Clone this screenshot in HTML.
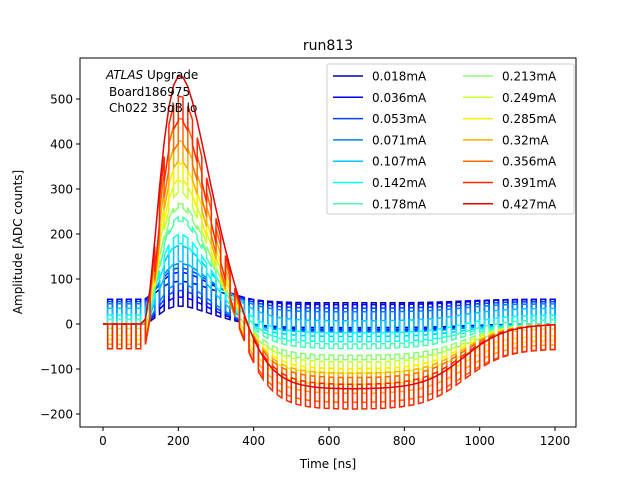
<!DOCTYPE html>
<html><head><meta charset="utf-8"><style>
body{margin:0;background:#fff}
text{font-family:"DejaVu Sans","Liberation Sans",sans-serif;fill:#000}
</style></head><body>
<svg id="chart" width="640" height="480" xmlns="http://www.w3.org/2000/svg">
<rect width="640" height="480" fill="#fff"/>
<g id="series"></g>
<rect x="80" y="58" width="496" height="369" fill="none" stroke="#000" stroke-width="1"/>
<g id="xticks"></g>
<g id="yticks"></g>
<text x="328" y="50" font-size="14" text-anchor="middle">run813</text>
<text x="328" y="468" font-size="12" text-anchor="middle">Time [ns]</text>
<text transform="translate(22,242) rotate(-90)" font-size="12" text-anchor="middle">Amplitude [ADC counts]</text>
<text x="106" y="79" font-size="12"><tspan font-style="italic">ATLAS</tspan> Upgrade</text>
<text x="109" y="96" font-size="12">Board186975</text>
<text x="109" y="112" font-size="12">Ch022 35dB lo</text>
<g id="legend">
<rect x="327" y="64" width="247" height="150" fill="#fff" fill-opacity="0.8" stroke="#ccc" rx="2"/>
</g>
</svg>
<script>
const currents=["0.018mA","0.036mA","0.053mA","0.071mA","0.107mA","0.142mA","0.178mA","0.213mA","0.249mA","0.285mA","0.32mA","0.356mA","0.391mA","0.427mA"];
const peaks=[40,60,75,90,140,180,230,270,320,360,410,460,510,555];
const undershoots=[8,12,15,18,28,40,55,70,85,100,110,120,135,145];
const squareAmps=[55,55,50,45,35,20,10,-10,-25,-35,-45,-55,-55,0];
const xTicks=[0,200,400,600,800,1000,1200];
const yTicks=[-200,-100,0,100,200,300,400,500];
const NS="http://www.w3.org/2000/svg";
function X(t){return 103+t*452/1200;}
function Y(v){return 324-v*0.45;}
function jet(f){const r=Math.min(Math.max(Math.min(4*f-1.5,-4*f+4.5),0),1),g=Math.min(Math.max(Math.min(4*f-0.5,-4*f+3.5),0),1),b=Math.min(Math.max(Math.min(4*f+0.5,-4*f+2.5),0),1);return `rgb(${Math.round(r*255)},${Math.round(g*255)},${Math.round(b*255)})`;}
function shape(t,p,u){
 const x=(t-104)/101;
 const pos = x<=0?0:Math.pow(x,2.5)*Math.exp(-2.5*(x-1));
 const onset=1/(1+Math.exp(-(t-370)/40)), rec=1/(1+Math.exp(-(t-960)/55));
 return p*pos - u*onset*(1-rec)*(t>110?1:0);
}
const sg=document.getElementById('series');
currents.forEach((c,i)=>{
 const col=jet(0.06+i*0.84/(currents.length-1));
 let d="";
 for(let k=0;k<=96;k++){
  const t=k*12.5;
  const sq=(k%2===0)?0:1;
  const v=shape(t,peaks[i],undershoots[i])+squareAmps[i]*sq;
  const v2=shape(t+12.5,peaks[i],undershoots[i])+squareAmps[i]*sq;
  d+=(k===0?"M":"L")+X(t).toFixed(1)+","+Y(v).toFixed(1)+"L"+X(Math.min(t+12.5,1200)).toFixed(1)+","+Y(v2).toFixed(1);
 }
 const p=document.createElementNS(NS,'path');
 p.setAttribute('d',d);p.setAttribute('fill','none');p.setAttribute('stroke',col);p.setAttribute('stroke-width','1.5');
 
 
 sg.appendChild(p);
 const lg=document.getElementById('legend');
 const col2=i>=7, row=i%7, lx=col2?463:333, ly=76+row*21.3;
 const l=document.createElementNS(NS,'line');
 l.setAttribute('x1',lx);l.setAttribute('x2',lx+30);l.setAttribute('y1',ly);l.setAttribute('y2',ly);l.setAttribute('stroke',col);l.setAttribute('stroke-width','1.5');
 
 
 lg.appendChild(l);
 const tx=document.createElementNS(NS,'text');
 tx.setAttribute('x',lx+39);tx.setAttribute('y',ly+4.5);tx.setAttribute('font-size','12');tx.textContent=c;
 
 
 lg.appendChild(tx);
});
const xg=document.getElementById('xticks');
xTicks.forEach(v=>{
 const l=document.createElementNS(NS,'line');l.setAttribute('x1',X(v));l.setAttribute('x2',X(v));l.setAttribute('y1',427);l.setAttribute('y2',431);l.setAttribute('stroke','#000');
 
 
 xg.appendChild(l);
 const t=document.createElementNS(NS,'text');t.setAttribute('x',X(v));t.setAttribute('y',445);t.setAttribute('font-size','12');t.setAttribute('text-anchor','middle');t.textContent=v;
 
 
 xg.appendChild(t);
});
const yg=document.getElementById('yticks');
yTicks.forEach(v=>{
 const l=document.createElementNS(NS,'line');l.setAttribute('x1',76);l.setAttribute('x2',80);l.setAttribute('y1',Y(v));l.setAttribute('y2',Y(v));l.setAttribute('stroke','#000');
 
 
 yg.appendChild(l);
 const t=document.createElementNS(NS,'text');t.setAttribute('x',73);t.setAttribute('y',Y(v)+4.5);t.setAttribute('font-size','12');t.setAttribute('text-anchor','end');t.textContent=v<0?'\u2212'+(-v):v;
 
 
 yg.appendChild(t);
});
</script>
</body></html>
